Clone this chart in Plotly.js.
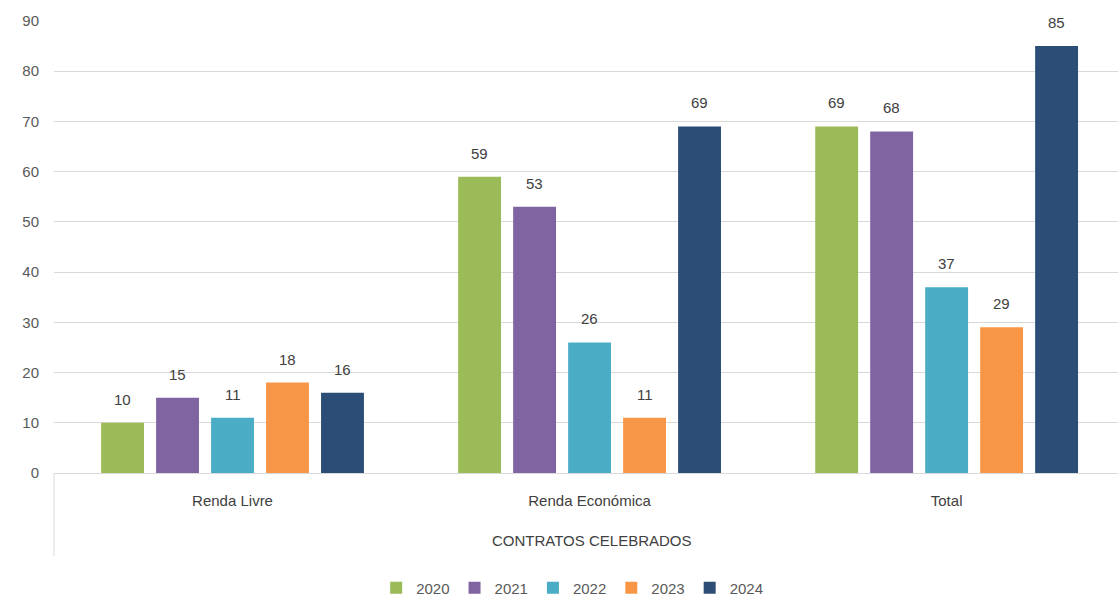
<!DOCTYPE html>
<html>
<head>
<meta charset="utf-8">
<script src="https://cdn.plot.ly/plotly-3.0.1.min.js"></script>
<style>html,body{margin:0;padding:0;background:#fff;}#chart{width:1118px;height:597px;}</style>
</head>
<body>
<div id="chart"></div>
<script>
const categories = ["Renda Livre", "Renda Económica", "Total"];
const years = ["2020", "2021", "2022", "2023", "2024"];
const v2020 = [10, 59, 69];
const v2021 = [15, 53, 68];
const v2022 = [11, 26, 37];
const v2023 = [18, 11, 29];
const v2024 = [16, 69, 85];
const groupTitle = "CONTRATOS CELEBRADOS";
const colors = ["#9BBB59", "#8064A2", "#4BACC6", "#F79646", "#2C4D75"];
const series = [v2020, v2021, v2022, v2023, v2024];

const font = "'Liberation Sans', 'DejaVu Sans', sans-serif";
const traces = series.map((vals, i) => ({
  type: "bar",
  name: years[i],
  x: categories,
  y: vals,
  marker: {color: colors[i]},
  hoverinfo: "x+y+name"
}));

// data labels as annotations, offset horizontally to sit over each bar of the group
const slotPx = 55;
const labels = [];
series.forEach((vals, i) => {
  vals.forEach((v, j) => {
    labels.push({
      x: categories[j], y: v, xref: "x", yref: "y",
      text: String(v), showarrow: false,
      xanchor: "center", yanchor: "bottom",
      xshift: (i - 2) * slotPx, yshift: 13,
      font: {family: font, size: 15, color: "#404040"}
    });
  });
});

const layout = {
  width: 1118, height: 597,
  margin: {l: 54, r: 0, t: 21, b: 124, autoexpand: false},
  paper_bgcolor: "#fff", plot_bgcolor: "#fff",
  barmode: "group",
  bargap: 0.23,
  bargroupgap: 0.22,
  font: {family: font, size: 15, color: "#595959"},
  xaxis: {
    type: "category",
    range: [-0.5, 2.48],
    showgrid: false,
    showline: true, linecolor: "#D9D9D9", linewidth: 1,
    ticks: "", ticklen: 0,
    tickfont: {family: font, size: 15, color: "#404040"},
    ticklabelstandoff: 14
  },
  yaxis: {
    range: [0, 90], dtick: 10,
    showgrid: true, gridcolor: "#D9D9D9", gridwidth: 1,
    zeroline: false, showline: false,
    ticks: "",
    tickfont: {family: font, size: 15, color: "#595959"},
    ticklabelstandoff: 14
  },
  showlegend: true,
  legend: {
    orientation: "h", x: 0.487, xanchor: "center",
    yref: "container", y: 0.015, yanchor: "middle",
    font: {family: font, size: 15, color: "#595959"},
    traceorder: "normal"
  },
  annotations: labels.concat([{
    text: groupTitle, xref: "paper", yref: "paper",
    x: 0.505, y: -0.15, xanchor: "center", yanchor: "middle",
    showarrow: false, font: {family: font, size: 15, color: "#404040"}
  }]),
  shapes: [{
    type: "line", xref: "paper", yref: "paper",
    x0: 0, x1: 0, y0: 0, y1: -0.184,
    line: {color: "#D9D9D9", width: 1}
  }]
};

Plotly.newPlot("chart", traces, layout, {displayModeBar: false, staticPlot: true});
</script>
</body>
</html>
